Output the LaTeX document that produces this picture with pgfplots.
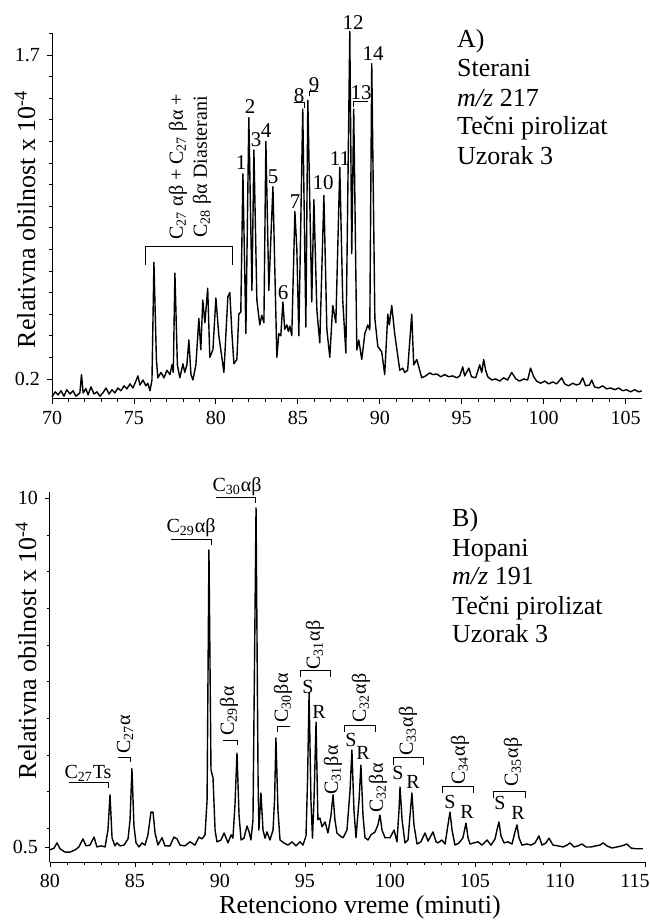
\documentclass[border=0pt]{standalone}
\usepackage{fontspec}
\setmainfont{Liberation Serif}
\usepackage{pgfplots}
\pgfplotsset{compat=1.18}

% shared look of both chromatograms
\pgfplotsset{
  chrom/.style={
    scale only axis,
    axis x line*=bottom,
    axis y line*=left,
    axis line style={line width=0.5pt},
    tick align=outside,
    major tick length=2.5pt,
    minor tick length=1.5pt,
    tick style={black, line width=0.4pt},
    clip=false,
    ticklabel style={font=\fontsize{10}{11}\selectfont},
    /pgf/number format/assume math mode=true,
  }
}
\newcommand{\lab}{\fontsize{13}{15}\selectfont}
\newcommand{\pk}{\fontsize{10.5}{12}\selectfont}
\newcommand{\cl}{\fontsize{10}{12}\selectfont}

\begin{document}
\begin{tikzpicture}
\useasboundingbox (0,0) rectangle (324.5pt,461pt);

% A) Sterani m/z 217
\begin{axis}[chrom, at={(26pt,261.5pt)}, anchor=south west,
  width=295pt, height=183pt,
  xmin=70, xmax=106, ymin=0.107, ymax=1.802,
  xtick={70,75,...,105}, minor x tick num=4,
  ytick={0.2,1.7}, minor ytick={0.3,0.4,...,1.8}]
\addplot[black, line width=0.7pt, line join=round] coordinates {
(70.0,0.117)(70.2,0.14)(70.37,0.126)(70.55,0.145)(70.73,0.12)(70.9,0.15)(71.1,0.13)(71.28,0.145)(71.46,0.12)(71.7,0.135)
(71.8,0.22)(71.9,0.135)(72.07,0.155)(72.2,0.126)(72.38,0.163)(72.56,0.13)(72.74,0.14)(72.93,0.12)(73.1,0.135)(73.3,0.158)
(73.48,0.13)(73.66,0.15)(73.84,0.135)(74.02,0.158)(74.2,0.145)(74.4,0.168)(74.57,0.154)(74.76,0.177)(74.94,0.158)(75.12,0.19)
(75.24,0.214)(75.37,0.172)(75.55,0.195)(75.73,0.168)(75.85,0.18)(75.98,0.145)(76.1,0.195)(76.22,0.74)(76.37,0.29)(76.46,0.205)
(76.65,0.23)(76.83,0.205)(77.01,0.24)(77.2,0.22)(77.32,0.265)(77.4,0.23)(77.5,0.69)(77.65,0.265)(77.8,0.205)(77.99,0.27)
(78.1,0.23)(78.23,0.265)(78.35,0.38)(78.48,0.22)(78.6,0.195)(78.78,0.265)(78.96,0.48)(79.08,0.335)(79.2,0.565)(79.33,0.46)
(79.5,0.62)(79.63,0.3)(79.82,0.335)(80.0,0.575)(80.18,0.4)(80.3,0.335)(80.49,0.23)(80.73,0.58)(80.85,0.6)(80.98,0.41)
(81.1,0.27)(81.28,0.29)(81.4,0.5)(81.52,0.51)(81.65,1.15)(81.83,0.41)(82.01,1.41)(82.2,0.61)(82.32,1.26)(82.5,0.565)
(82.68,0.45)(82.8,0.495)(82.93,0.46)(83.05,1.30)(83.23,0.61)(83.48,1.09)(83.72,0.3)(83.84,0.41)(83.96,0.4)(84.09,0.556)
(84.2,0.43)(84.33,0.45)(84.42,0.42)(84.51,0.445)(84.63,0.4)(84.82,0.975)(84.94,0.8)(85.06,0.4)(85.3,1.45)(85.49,0.44)
(85.61,1.49)(85.85,0.556)(85.98,1.03)(86.16,0.52)(86.34,0.367)(86.59,1.05)(86.77,0.43)(86.95,0.3)(87.13,0.54)(87.32,0.46)
(87.56,1.18)(87.74,0.565)(87.93,0.32)(88.17,1.81)(88.29,0.78)(88.41,1.45)(88.6,0.334)(88.72,0.38)(88.9,0.29)(89.09,0.41)
(89.27,0.45)(89.39,0.427)(89.51,1.66)(89.7,0.48)(89.88,0.35)(90.12,0.325)(90.3,0.22)(90.49,0.5)(90.58,0.45)(90.73,0.54)
(90.91,0.41)(91.22,0.24)(91.4,0.25)(91.52,0.23)(91.7,0.24)(91.95,0.5)(92.07,0.265)(92.26,0.29)(92.56,0.205)(92.8,0.214)
(93.05,0.228)(93.23,0.22)(93.48,0.223)(93.72,0.21)(93.96,0.22)(94.2,0.21)(94.45,0.214)(94.7,0.205)(94.88,0.214)(95.06,0.256)
(95.18,0.214)(95.43,0.25)(95.6,0.21)(95.85,0.205)(96.1,0.265)(96.22,0.23)(96.34,0.29)(96.46,0.24)(96.59,0.21)(96.83,0.195)
(97.07,0.2)(97.32,0.19)(97.56,0.205)(97.8,0.195)(98.05,0.23)(98.3,0.2)(98.54,0.19)(98.78,0.2)(99.02,0.195)(99.2,0.25)
(99.39,0.21)(99.57,0.19)(99.82,0.18)(100.06,0.19)(100.3,0.177)(100.55,0.186)(100.79,0.177)(101.1,0.205)(101.28,0.177)(101.52,0.168)
(101.77,0.18)(102.0,0.172)(102.2,0.177)(102.38,0.205)(102.56,0.168)(102.8,0.172)(102.93,0.195)(103.1,0.163)(103.35,0.158)(103.6,0.168)
(103.84,0.154)(104.09,0.158)(104.33,0.15)(104.57,0.158)(104.82,0.145)(105.06,0.15)(105.3,0.14)(105.55,0.15)(105.8,0.14)(105.98,0.145)
};
\end{axis}

% B) Hopani m/z 191
\begin{axis}[chrom, at={(25pt,30pt)}, anchor=south west,
  width=297.5pt, height=185pt,
  xmin=80, xmax=115, ymin=0.09, ymax=10.17,
  xtick={80,85,...,110}, minor x tick num=4,
  extra x ticks={115},
  extra x tick style={xticklabel style={xshift=-5pt}},
  ytick={0.5,10}, minor ytick={1,2,...,9}]
\addplot[black, line width=0.7pt, line join=round] coordinates {
(80.0,0.42)(80.24,0.47)(80.41,0.61)(80.59,0.45)(80.88,0.36)(81.18,0.36)(81.47,0.42)(81.7,0.5)(81.94,0.72)(82.12,0.53)
(82.35,0.55)(82.59,0.77)(82.76,0.5)(83.0,0.53)(83.24,0.5)(83.41,0.96)(83.53,1.92)(83.65,0.75)(83.82,0.53)(83.94,0.61)
(84.12,0.53)(84.35,0.55)(84.59,0.72)(84.71,1.24)(84.82,2.63)(84.94,1.07)(85.06,0.61)(85.24,0.5)(85.41,0.61)(85.59,0.55)
(85.76,0.83)(85.94,1.45)(86.06,1.45)(86.18,0.88)(86.35,0.55)(86.59,0.75)(86.76,0.53)(87.06,0.53)(87.29,0.77)(87.47,0.72)
(87.65,0.55)(87.94,0.53)(88.24,0.64)(88.53,0.55)(88.76,0.77)(88.94,0.72)(89.12,0.83)(89.24,1.78)(89.35,8.59)(89.47,2.6)
(89.59,2.38)(89.71,0.96)(89.82,0.64)(90.06,0.69)(90.24,0.88)(90.47,0.61)(90.65,0.83)(90.76,0.74)(90.88,1.64)(91.0,3.06)
(91.12,1.37)(91.24,0.69)(91.41,0.74)(91.59,1.07)(91.71,0.91)(91.82,0.69)(91.94,1.24)(92.12,9.74)(92.24,2.33)(92.29,0.96)
(92.41,1.97)(92.53,0.96)(92.65,0.74)(92.76,0.91)(92.94,0.69)(93.12,0.96)(93.21,1.78)(93.29,3.47)(93.41,1.5)(93.53,0.69)
(93.76,0.61)(94.0,0.55)(94.24,0.64)(94.47,0.53)(94.71,0.64)(94.88,0.55)(95.06,0.8)(95.15,2.33)(95.24,4.7)(95.35,1.78)
(95.44,0.74)(95.53,1.78)(95.65,3.9)(95.76,1.24)(95.88,1.29)(96.0,1.05)(96.18,1.18)(96.35,0.88)(96.53,1.37)(96.65,1.92)
(96.76,1.24)(96.88,0.88)(97.06,0.8)(97.24,0.75)(97.47,0.96)(97.65,2.05)(97.76,3.14)(97.88,1.5)(98.0,0.75)(98.18,1.78)
(98.29,2.73)(98.41,1.37)(98.53,0.75)(98.71,0.69)(98.88,0.83)(99.12,0.91)(99.29,1.1)(99.41,1.37)(99.53,0.96)(99.71,0.75)
(100.0,0.75)(100.24,0.96)(100.41,0.64)(100.53,1.5)(100.59,2.13)(100.71,1.24)(100.88,0.61)(101.06,0.69)(101.18,1.37)(101.29,1.97)
(101.41,1.1)(101.59,0.58)(101.82,0.64)(102.06,0.88)(102.24,0.66)(102.53,0.91)(102.71,0.64)(102.82,0.61)(103.06,0.69)(103.24,0.58)
(103.41,1.1)(103.53,1.45)(103.65,0.96)(103.82,0.55)(104.06,0.61)(104.29,0.75)(104.47,1.15)(104.59,0.75)(104.71,0.58)(104.94,0.61)
(105.18,0.64)(105.41,0.55)(105.71,0.69)(105.94,0.55)(106.18,0.72)(106.29,0.96)(106.41,1.18)(106.53,0.8)(106.71,0.61)(106.94,0.64)
(107.18,0.58)(107.35,0.91)(107.47,1.1)(107.59,0.75)(107.76,0.55)(108.06,0.58)(108.29,0.55)(108.53,0.61)(108.76,0.8)(108.94,0.55)
(109.18,0.61)(109.35,0.74)(109.59,0.55)(109.88,0.53)(110.18,0.5)(110.41,0.55)(110.59,0.61)(110.82,0.5)(111.06,0.53)(111.29,0.58)
(111.53,0.5)(111.82,0.5)(112.12,0.53)(112.35,0.55)(112.53,0.61)(112.76,0.53)(113.06,0.47)(113.35,0.5)(113.65,0.53)(113.94,0.58)
(114.18,0.47)(114.47,0.45)(114.88,0.45)
};
\end{axis}

% annotations, placed in image pixels (origin top left)
\begin{scope}[x=0.5pt, y=-0.5pt, shift={(0pt,461pt)}, line width=0.5pt]
  % axis titles
  \node[rotate=90, font=\lab] at (25,219) {Relativna obilnost x 10\textsuperscript{-4}};
  \node[rotate=90, font=\lab] at (26,650) {Relativna obilnost x 10\textsuperscript{-4}};
  \node[font=\lab] at (360,907) {Retenciono vreme (minuti)};

  % panel A text block
  \node[font=\lab, anchor=base west] at (450,48) {A)};
  \node[font=\lab, anchor=base west] at (450,77) {Sterani};
  \node[font=\lab, anchor=base west] at (450,107) {\textit{m/z} 217};
  \node[font=\lab, anchor=base west] at (450,135) {Tečni pirolizat};
  \node[font=\lab, anchor=base west] at (450,165) {Uzorak 3};

  % diasterane group
  \draw (145,265) -- (145,247) -- (232,247) -- (232,265);
  \node[rotate=90, font=\cl, align=center] at (190,167)
    {C\textsubscript{27} αβ + C\textsubscript{27} βα +\\C\textsubscript{28} βα Diasterani};

  % peak numbers
  \node[font=\pk] at (241,163) {1};
  \node[font=\pk] at (250,107) {2};
  \node[font=\pk] at (256,140) {3};
  \node[font=\pk] at (266,131) {4};
  \node[font=\pk] at (273,177) {5};
  \node[font=\pk] at (283,293) {6};
  \node[font=\pk] at (295,202) {7};
  \node[font=\pk] at (299,96) {8};
  \node[font=\pk] at (314,85) {9};
  \node[font=\pk] at (323,183) {10};
  \node[font=\pk] at (340,159) {11};
  \node[font=\pk] at (353,23) {12};
  \node[font=\pk] at (361,93) {13};
  \node[font=\pk] at (373,54) {14};
  \draw (294,103) -- (304,103) -- (304,108);
  \draw (318,92) -- (309,92) -- (309,96);
  \draw (368,102) -- (353,102) -- (353,107);

  % panel B text block
  \node[font=\lab, anchor=base west] at (445,527) {B)};
  \node[font=\lab, anchor=base west] at (445,557) {Hopani};
  \node[font=\lab, anchor=base west] at (445,585) {\textit{m/z} 191};
  \node[font=\lab, anchor=base west] at (445,615) {Tečni pirolizat};
  \node[font=\lab, anchor=base west] at (445,643) {Uzorak 3};

  % hopane labels
  \node[font=\cl] at (88,773) {C\textsubscript{27}Ts};
  \draw (69,783) -- (108,783) -- (108,788);
  \node[font=\cl, rotate=90] at (125,734) {C\textsubscript{27}α};
  \draw (118,758) -- (130,758) -- (130,762);
  \node[font=\cl] at (191,528) {C\textsubscript{29}αβ};
  \draw (171,540) -- (211,540) -- (211,545);
  \node[font=\cl] at (237,487) {C\textsubscript{30}αβ};
  \draw (216,498) -- (255,498) -- (255,503);
  \node[font=\cl, rotate=90] at (229,711) {C\textsubscript{29}βα};
  \draw (223,741) -- (237,741) -- (237,745);
  \node[font=\cl, rotate=90] at (283,698) {C\textsubscript{30}βα};
  \draw (290,727) -- (277,727) -- (277,732);

  \node[font=\cl, rotate=90] at (315,645) {C\textsubscript{31}αβ};
  \draw (300,677) -- (300,671) -- (330,671) -- (330,677);
  \node[font=\cl] at (308,687) {S};
  \node[font=\cl] at (319,712) {R};
  \node[font=\cl, rotate=90] at (333,770) {C\textsubscript{31}βα};

  \node[font=\cl, rotate=90] at (361,698) {C\textsubscript{32}αβ};
  \draw (344,732) -- (344,726) -- (375,726) -- (375,732);
  \node[font=\cl] at (351,740) {S};
  \node[font=\cl] at (363,753) {R};
  \node[font=\cl, rotate=90] at (378,788) {C\textsubscript{32}βα};

  \node[font=\cl, rotate=90] at (408,731) {C\textsubscript{33}αβ};
  \draw (393,765) -- (393,758) -- (423,758) -- (423,765);
  \node[font=\cl] at (398,773) {S};
  \node[font=\cl] at (413,782) {R};

  \node[font=\cl, rotate=90] at (460,760) {C\textsubscript{34}αβ};
  \draw (442,793) -- (442,787) -- (473,787) -- (473,793);
  \node[font=\cl] at (450,802) {S};
  \node[font=\cl] at (467,812) {R};

  \node[font=\cl, rotate=90] at (513,762) {C\textsubscript{35}αβ};
  \draw (493,798) -- (493,792) -- (525,792) -- (525,798);
  \node[font=\cl] at (500,803) {S};
  \node[font=\cl] at (518,813) {R};
\end{scope}
\end{tikzpicture}
\end{document}
